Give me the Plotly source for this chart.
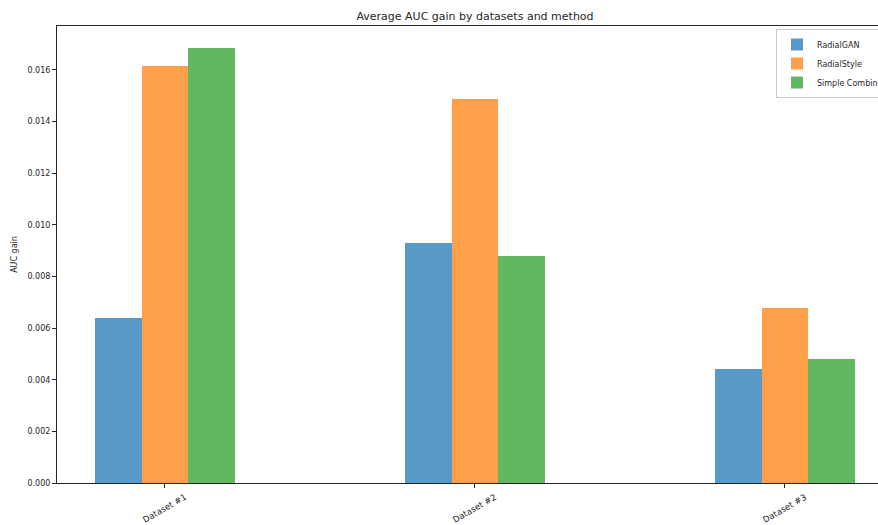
import plotly.graph_objects as go

categories = ["Dataset #1", "Dataset #2", "Dataset #3"]
radialgan = [0.0064, 0.0093, 0.00442]
radialstyle = [0.01616, 0.01488, 0.00678]
simple_combined = [0.01686, 0.0088, 0.00481]
series_names = ["RadialGAN", "RadialStyle", "Simple Combined"]
y_ticks = [0.000, 0.002, 0.004, 0.006, 0.008, 0.010, 0.012, 0.014, 0.016]

colors = ["#579ac7", "#ff9f4a", "#61b861"]
width = 0.15
offsets = [-width, 0.0, width]
xs = list(range(len(categories)))

fig = go.Figure()
for name, vals, col, off in zip(series_names, [radialgan, radialstyle, simple_combined], colors, offsets):
    fig.add_trace(go.Bar(
        x=[x + off for x in xs], y=vals, width=width, name=name,
        marker=dict(color=col, line=dict(width=0)),
    ))

font = "DejaVu Sans, sans-serif"
txt = "#262626"

# category labels, rotated and centred under their ticks
for x, lab in zip(xs, categories):
    fig.add_annotation(x=x, y=0, xref="x", yref="paper", text=lab, showarrow=False,
                       textangle=-30, xanchor="center", yanchor="middle", yshift=-24.5,
                       font=dict(family=font, size=8.5, color=txt))

fig.update_layout(
    width=878, height=525,
    margin=dict(l=57, r=0, t=26, b=42, autoexpand=False),
    paper_bgcolor="white", plot_bgcolor="white",
    title=dict(text="Average AUC gain by datasets and method", x=475 / 878, xanchor="center",
               xref="container", y=1 - 16 / 525, yanchor="middle",
               font=dict(family=font, size=11, color=txt)),
    font=dict(family=font, size=8, color=txt),
    showlegend=True,
    legend=dict(x=(776 - 57) / (878 - 57), y=1 - 3 / 457, xanchor="left", yanchor="top",
                bgcolor="rgba(255,255,255,0.8)", bordercolor="#cccccc", borderwidth=1,
                font=dict(family=font, size=8, color=txt),
                itemwidth=30, tracegroupgap=0),
    bargap=0,
    xaxis=dict(range=[-0.3475, 2.3], tickmode="array", tickvals=xs, ticktext=categories,
               showticklabels=False, ticks="outside", ticklen=4, tickcolor=txt,
               showgrid=False, zeroline=False, showline=True, linecolor=txt,
               linewidth=1, mirror=True, automargin=False),
    yaxis=dict(range=[0, 0.0177], tickmode="array", tickvals=y_ticks,
               ticktext=[f"{v:.3f}" for v in y_ticks],
               ticks="outside", ticklen=4, tickcolor=txt,
               showgrid=False, zeroline=False, showline=True, linecolor=txt,
               linewidth=1, mirror=True, automargin=False,
               title=dict(text="AUC gain", font=dict(family=font, size=8, color=txt), standoff=8),
               tickfont=dict(family=font, size=8, color=txt)),
)

fig.write_html("out.html", config={"displayModeBar": False},
               post_script="document.body.style.margin='0';document.body.style.overflow='hidden';")
